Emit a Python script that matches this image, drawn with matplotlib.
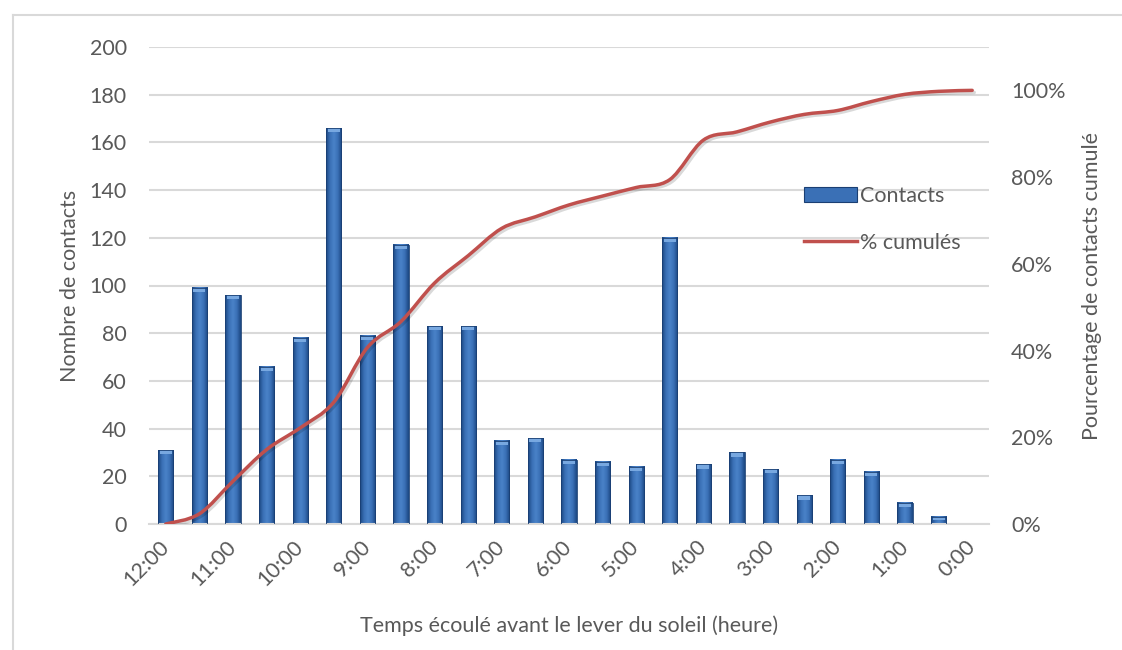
import numpy as np
import matplotlib
matplotlib.use("Agg")
import matplotlib.pyplot as plt
import matplotlib.patheffects as pe
from matplotlib.colors import LinearSegmentedColormap
from matplotlib.lines import Line2D
from matplotlib.patches import Patch, PathPatch
from matplotlib.path import Path

plt.rcParams["font.family"] = ["Lato", "DejaVu Sans"]

# Half-hour slots from 12:00 down to 0:00 before sunrise
SLOTS = ["12:00", "11:30", "11:00", "10:30", "10:00", "9:30", "9:00", "8:30",
         "8:00", "7:30", "7:00", "6:30", "6:00", "5:30", "5:00", "4:30",
         "4:00", "3:30", "3:00", "2:30", "2:00", "1:30", "1:00", "0:30", "0:00"]
CONTACTS = [31, 99, 96, 66, 78, 166, 79, 117, 83, 83, 35, 36, 27, 26, 24, 120,
            25, 30, 23, 12, 27, 22, 9, 3, 0]
TICK_LABELS = ["12:00", "11:00", "10:00", "9:00", "8:00", "7:00", "6:00",
               "5:00", "4:00", "3:00", "2:00", "1:00", "0:00"]
LEFT_TICKS = [0, 20, 40, 60, 80, 100, 120, 140, 160, 180, 200]
RIGHT_TICKS = [0.0, 0.2, 0.4, 0.6, 0.8, 1.0]

TEXT = "#595959"
GRID = "#D9D9D9"
RED = "#C0504D"
FS = 15.5

counts = np.array(CONTACTS, dtype=float)
# cumulative share of contacts reached at the start of each slot
cum_pct = np.concatenate([[0.0], np.cumsum(counts)[:-1]]) / counts.sum()
x = np.arange(len(SLOTS))

fig = plt.figure(figsize=(11.22, 6.5), dpi=100)
ax = fig.add_axes([149 / 1122, 1 - 524 / 650, 840 / 1122, 477 / 650])
ax2 = ax.twinx()

# bars with a shaded cylinder look
bar_cmap = LinearSegmentedColormap.from_list(
    "bar", ["#1B4680", "#3A70B6", "#4A82C8", "#3A70B6", "#1B4680"])
grad = np.linspace(0, 1, 64).reshape(1, -1)
width = 0.45
for xi, h in zip(x, counts):
    if h <= 0:
        continue
    ax.imshow(grad, cmap=bar_cmap, aspect="auto", interpolation="bicubic",
              extent=(xi - width / 2, xi + width / 2, 0, h), zorder=2)
    cap = min(1.8, h * 0.5)
    ax.bar(xi, cap, bottom=h - cap, width=width * 0.8, color="#78A8E0",
           linewidth=0, zorder=3)
    ax.bar(xi, h, width=width, facecolor="none", edgecolor="#1A3F73",
           linewidth=0.6, zorder=3)

ax.set_xlim(-0.5, len(SLOTS) - 0.5)
ax.set_ylim(0, 200)
ax.set_yticks(LEFT_TICKS)
ax.set_xticks(x[::2])
ax.set_xticklabels(TICK_LABELS, rotation=45, ha="right", va="center",
                   rotation_mode="anchor")
ax.tick_params(axis="x", length=0, pad=14, labelsize=FS, labelcolor=TEXT)
ax.tick_params(axis="y", length=0, pad=16, labelsize=FS, labelcolor=TEXT)
ax.grid(axis="y", color=GRID, linewidth=1.5)
ax.set_axisbelow(True)
for side in ["top", "right", "left"]:
    ax.spines[side].set_visible(False)
ax.spines["bottom"].set_color(GRID)
ax.spines["bottom"].set_linewidth(1.5)
ax.set_ylabel("Nombre de contacts", fontsize=FS, color=TEXT, labelpad=7)
ax.set_xlabel("Temps écoulé avant le lever du soleil (heure)", fontsize=FS,
              color=TEXT, labelpad=19)

# smoothed cumulative curve (Catmull-Rom through each slot)
pts = np.column_stack([x, cum_pct])
padded = np.vstack([pts[0], pts, pts[-1]])
verts = [pts[0]]
codes = [Path.MOVETO]
for i in range(len(pts) - 1):
    p0, p1, p2, p3 = padded[i], padded[i + 1], padded[i + 2], padded[i + 3]
    verts += [p1 + (p2 - p0) / 6, p2 - (p3 - p1) / 6, p2]
    codes += [Path.CURVE4] * 3
curve = PathPatch(Path(verts, codes), facecolor="none", edgecolor=RED,
                  linewidth=2.5, capstyle="round", zorder=4)
curve.set_path_effects([pe.SimpleLineShadow(offset=(1.5, -1.5), alpha=0.15,
                                            shadow_color="black"),
                        pe.Normal()])
ax2.add_patch(curve)

ax2.set_ylim(0, 1.1)
ax2.set_yticks(RIGHT_TICKS)
ax2.set_yticklabels([f"{int(round(t * 100))}%" for t in RIGHT_TICKS])
ax2.tick_params(axis="y", length=0, pad=16, labelsize=FS, labelcolor=TEXT)
for side in ["top", "right", "left", "bottom"]:
    ax2.spines[side].set_visible(False)
ax2.set_ylabel("Pourcentage de contacts cumulé", fontsize=FS, color=TEXT,
               labelpad=12)

handles = [Patch(facecolor="#3A70B6", edgecolor="#1A3F73", linewidth=0.8),
           Line2D([], [], color=RED, linewidth=2.5)]
leg = ax2.legend(handles, ["Contacts", "% cumulés"], loc="upper left",
                 bbox_to_anchor=(804 / 1122, 1 - 186 / 650),
                 bbox_transform=fig.transFigure, frameon=False, fontsize=FS,
                 handlelength=2.45, handletextpad=0.15, labelspacing=1.25,
                 borderpad=0, borderaxespad=0)
for t in leg.get_texts():
    t.set_color(TEXT)

# chart frame
fig.add_artist(Line2D([12.5 / 1122, 1.0], [1 - 14.5 / 650] * 2,
                      color="#D9D9D9", linewidth=1.5))
fig.add_artist(Line2D([12.5 / 1122] * 2, [0.0, 1 - 14.5 / 650],
                      color="#D9D9D9", linewidth=1.5))

fig.savefig("out.png", dpi=100)
